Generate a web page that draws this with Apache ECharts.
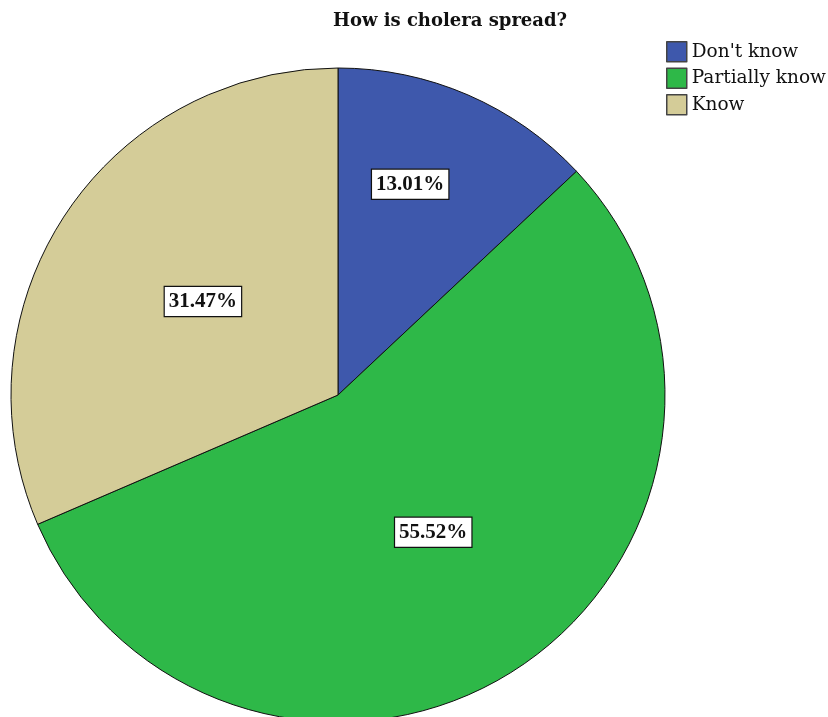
<!DOCTYPE html>
<html>
<head>
<meta charset="utf-8">
<script src="https://cdn.jsdelivr.net/npm/echarts@6/dist/echarts.min.js"></script>
<style>
  html, body { margin: 0; padding: 0; background: #fff; }
  #chart { width: 828px; height: 717px; }
</style>
</head>
<body>
<div id="chart"></div>
<script>
// Answers to "How is cholera spread?" (percent of respondents)
const categories = ["Don't know", "Partially know", "Know"];
const percents = [13.01, 55.52, 31.47];
const colors = ['#3E58AC', '#2EB848', '#D4CC98'];

const wideSerif = '"DejaVu Serif", serif';
const labelSerif = '"Liberation Serif", "DejaVu Serif", serif';

const chart = echarts.init(document.getElementById('chart'), null, { renderer: 'canvas' });

chart.setOption({
  backgroundColor: '#ffffff',
  animation: false,
  title: {
    text: 'How is cholera spread?',
    left: 445,
    top: 7,
    textAlign: 'center',
    textStyle: { fontFamily: wideSerif, fontWeight: 'bold', fontSize: 18, color: '#111' }
  },
  legend: {
    orient: 'vertical',
    left: 666,
    top: 41,
    padding: 0,
    itemWidth: 20,
    itemHeight: 20,
    itemGap: 5,
    itemTextGap: 5,
    icon: 'rect',
    selectedMode: false,
    textStyle: { fontFamily: wideSerif, fontSize: 18.5, color: '#111' },
    itemStyle: { borderColor: '#444', borderWidth: 1.5 },
    data: categories
  },
  series: [{
    type: 'pie',
    center: [338, 395],
    radius: 327,
    startAngle: 90,
    clockwise: true,
    avoidLabelOverlap: false,
    itemStyle: { borderColor: '#111', borderWidth: 1 },
    label: {
      show: true,
      position: 'inside',
      formatter: p => p.value.toFixed(2) + '%',
      fontFamily: labelSerif,
      fontWeight: 'bold',
      fontSize: 21,
      lineHeight: 22,
      color: '#111',
      backgroundColor: '#ffffff',
      borderColor: '#111',
      borderWidth: 1.2,
      padding: [4, 4, 3, 4]
    },
    labelLine: { show: false },
    // the narrow first slice carries its label further out toward the rim
    labelLayout: function (params) {
      if (params.dataIndex === 0) return { dx: 6, dy: -58 };
      return { dx: 4, dy: -2 };
    },
    data: categories.map((name, i) => ({
      name: name,
      value: percents[i],
      itemStyle: { color: colors[i] }
    }))
  }]
});
</script>
</body>
</html>
